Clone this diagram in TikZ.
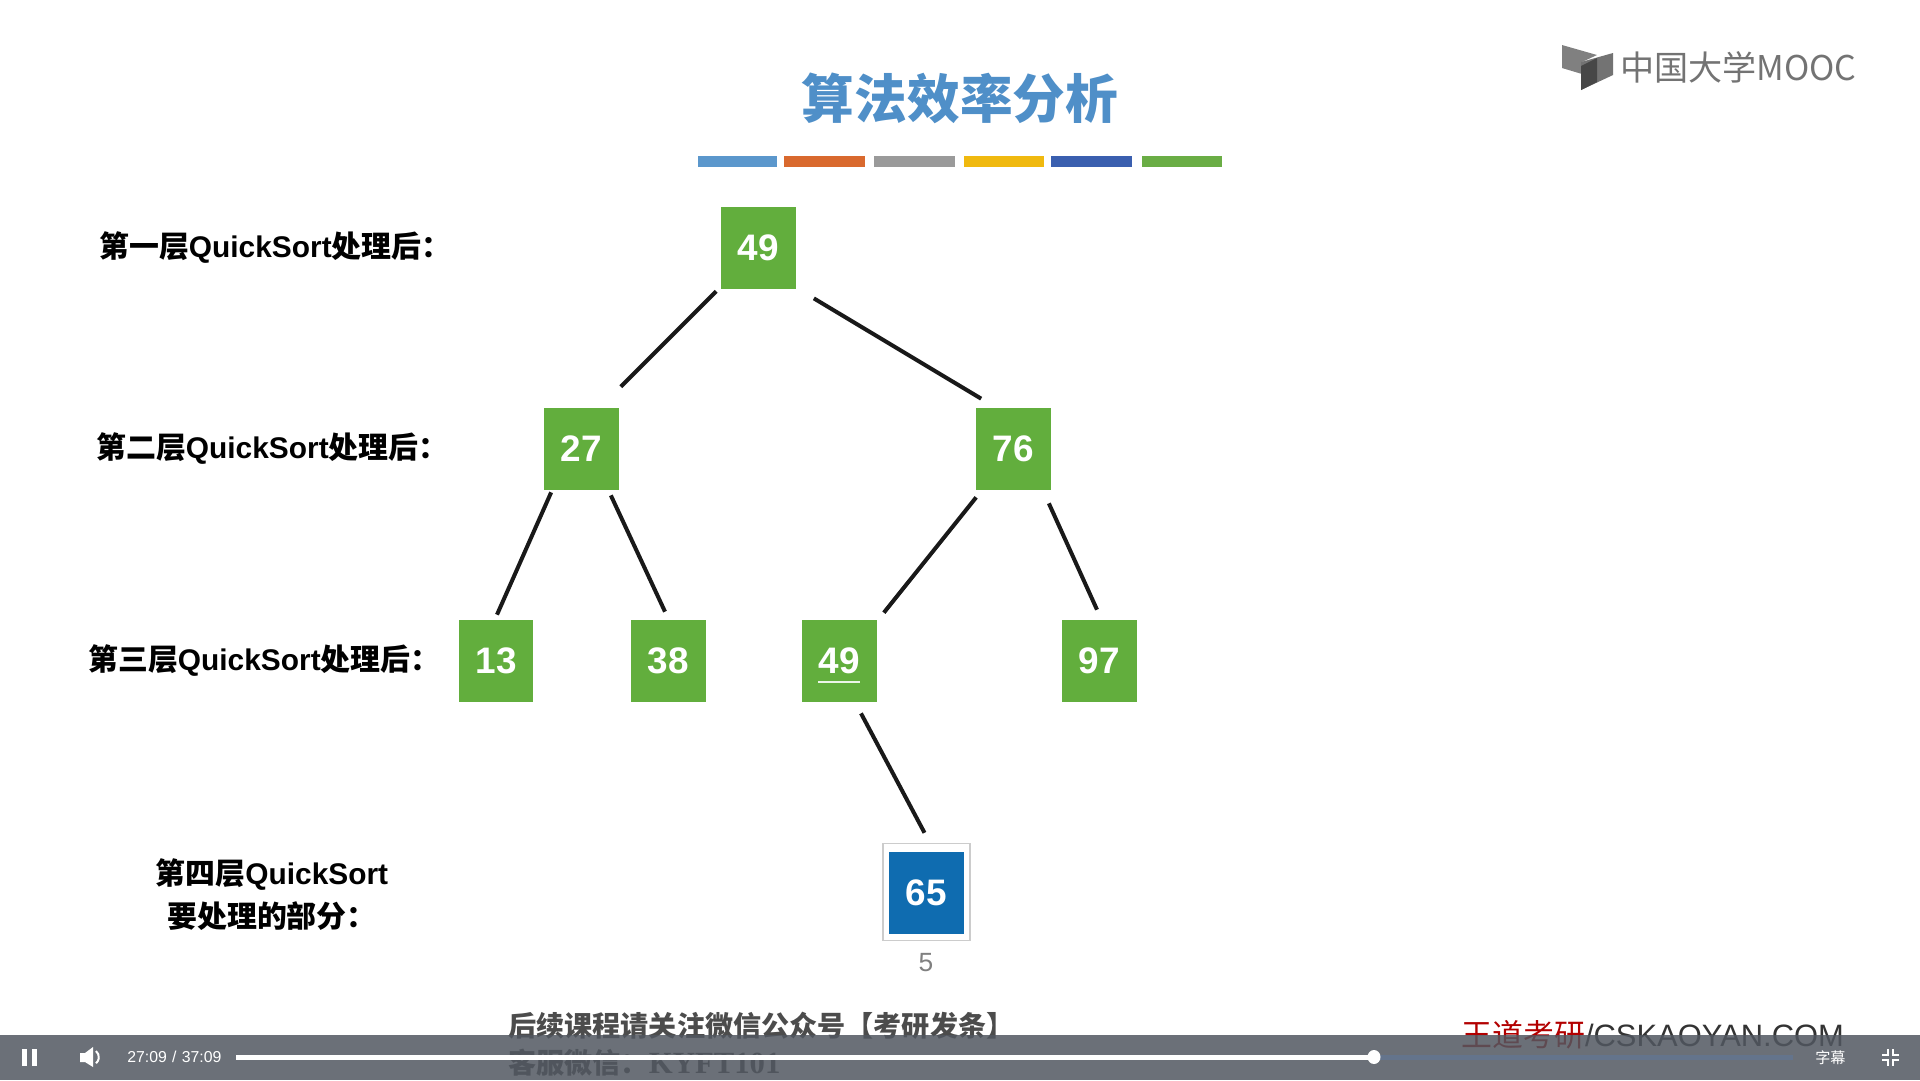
\documentclass[tikz,border=0pt]{standalone}
\usepackage{fontspec}
\setmainfont{Liberation Sans}
\newfontfamily\cjk{Noto Sans CJK SC}
\newfontfamily\serifpart{Liberation Serif}
\usetikzlibrary{calc}
\definecolor{boxgreen}{HTML}{62AE3D}
\definecolor{boxblue}{HTML}{0F6CB0}
\definecolor{titleblue}{HTML}{4F8FC8}
\definecolor{barblue}{HTML}{5B97CC}
\definecolor{barorange}{HTML}{D9692E}
\definecolor{bargray}{HTML}{9A9A9A}
\definecolor{baryellow}{HTML}{F0B90F}
\definecolor{bardark}{HTML}{3A5FAF}
\definecolor{bargreen}{HTML}{6AAD45}
\definecolor{playerbar}{HTML}{515760}
\definecolor{trackrest}{HTML}{64748C}
\begin{document}
\begin{tikzpicture}[x=0.02cm, y=-0.02cm]
		\tikzset{green box/.style={fill=boxgreen, minimum width=1.5cm, minimum height=1.64cm, inner sep=0pt, text=white, font=\fontsize{21}{24}\selectfont\bfseries}}
		\tikzset{link/.style={line width=0.08cm, black!90}}
		\tikzset{layer/.style={anchor=west, inner sep=0pt, font=\fontsize{17}{24.5}\selectfont\bfseries}}
		\tikzset{stripe/.style={line width=0.22cm}}
		\tikzset{icon/.style={white, line width=0.05cm}}
		\tikzset{blurred/.style={anchor=west, inner sep=0pt, text=black!70, font=\fontsize{16}{18}\selectfont\cjk\bfseries}}
		\useasboundingbox (0,0) rectangle (1920,1080);
		\node[inner sep=0pt, text=titleblue, font=\fontsize{30}{36}\selectfont\cjk\bfseries] (title) at (960,98) {算法效率分析};
		\draw[stripe, barblue] (698,161.5) -- (777,161.5);
		\draw[stripe, barorange] (784,161.5) -- (865,161.5);
		\draw[stripe, bargray] (874,161.5) -- (955,161.5);
		\draw[stripe, baryellow] (964,161.5) -- (1044,161.5);
		\draw[stripe, bardark] (1051,161.5) -- (1132,161.5);
		\draw[stripe, bargreen] (1142,161.5) -- (1222,161.5);
		\fill[black!50] (1562,45) -- (1597,55) -- (1582,62) -- (1582,74) -- (1562,68) -- cycle;
		\fill[black!55] (1613,53) -- (1613,75) -- (1581,90) -- (1581,62) -- cycle;
		\fill[black!72] (1597,58) -- (1597,82) -- (1581,90) -- (1581,66) -- cycle;
		\node[anchor=west, inner sep=0pt, text=black!55, font=\fontsize{19.4}{22}\selectfont\cjk] (logo) at (1620,67) {中国大学MOOC};
		\node[layer] (L1) at (99,248) {{\cjk 第一层}QuickSort{\cjk 处理后：}};
		\node[layer] (L2) at (96,449) {{\cjk 第二层}QuickSort{\cjk 处理后：}};
		\node[layer] (L3) at (88,661) {{\cjk 第三层}QuickSort{\cjk 处理后：}};
		\node[layer, anchor=center, align=center] (L4) at (272,895) {{\cjk 第四层}QuickSort\\{\cjk 要处理的部分：}};
		\node[green box] (a) at (758,248) {49};
		\node[green box] (b1) at (581,449) {27};
		\node[green box] (b2) at (1013,449) {76};
		\node[green box] (c1) at (496,661) {13};
		\node[green box] (c2) at (668,661) {38};
		\node[green box] (c3) at (839,661) {49};
		\node[green box] (c4) at (1099,661) {97};
		\node[draw=black!20, line width=0.03cm, minimum width=1.74cm, minimum height=1.94cm, inner sep=0pt] (dframe) at (926.5,892) {};
		\node[green box, fill=boxblue] (d) at (926.5,893) {65};
		\node[below=0pt, inner sep=0pt, text=black!50, font=\fontsize{15}{18}\selectfont] (dindex) at (926,953) {5};
		\draw[line width=0.05cm, white!88!boxgreen] ([shift={(-21,21)}]c3.center) -- ([shift={(21,21)}]c3.center);
		\draw[link] ([shift={(-4,2)}]a.south west) -- ([shift={(2,-21)}]b1.north east);
		\draw[link] ([shift={(18,9)}]a.south east) -- ([shift={(6,-9)}]b2.north west);
		\draw[link] ([shift={(8,2)}]b1.south west) -- ([shift={(1,-5)}]c1.north);
		\draw[link] ([shift={(-8,5)}]b1.south east) -- ([shift={(-3,-8)}]c2.north);
		\draw[link] ([shift={(1,7)}]b2.south west) -- ([shift={(7,-7)}]c3.north east);
		\draw[link] ([shift={(-2,13)}]b2.south east) -- ([shift={(-2,-10)}]c4.north);
		\draw[link] ([shift={(22,11)}]c3.south) -- ([shift={(-2,-10)}]dframe.north);
		\node[blurred] (follow) at (508,1026) {后续课程请关注微信公众号【考研发条】};
		\node[blurred] (service) at (508,1063) {客服微信：{\serifpart\fontsize{17.5}{18}\selectfont KYFT101}};
		\node[anchor=west, inner sep=0pt, text=black!80, font=\fontsize{17.6}{18}\selectfont] (mark) at (1461,1035) {\textcolor{red!70!black}{\cjk 王道考研}/CSKAOYAN.COM};
		\fill[playerbar, opacity=0.85] (0,1035) rectangle (1920,1080);
		\fill[white] (22,1049) rectangle (27,1066);
		\fill[white] (32,1049) rectangle (37,1066);
		\fill[white] (80,1053) -- (85,1053) -- (93,1047) -- (93,1067) -- (85,1062) -- (80,1062) -- cycle;
		\draw[white, line width=0.04cm] (96,1051) arc[start angle=-50, end angle=50, radius=8];
		\node[anchor=west, inner sep=0pt, text=white, font=\fontsize{9}{10}\selectfont] (clock) at (127,1057) {27:09\,\,/\,\,37:09};
		\draw[line width=0.1cm, trackrest] (1374,1057) -- (1793,1057);
		\draw[line width=0.1cm, white] (236,1057) -- (1374,1057);
		\fill[white] (1374,1057) ellipse[x radius=6.5, y radius=7];
		\node[anchor=west, inner sep=0pt, text=white, font=\fontsize{8.6}{10}\selectfont\cjk] (subs) at (1815,1058) {字幕};
		\draw[icon] (1882,1055) -- (1888,1055) -- (1888,1049);
		\draw[icon] (1899,1055) -- (1893,1055) -- (1893,1049);
		\draw[icon] (1882,1060) -- (1888,1060) -- (1888,1066);
		\draw[icon] (1899,1060) -- (1893,1060) -- (1893,1066);
	\end{tikzpicture}
\end{document}
